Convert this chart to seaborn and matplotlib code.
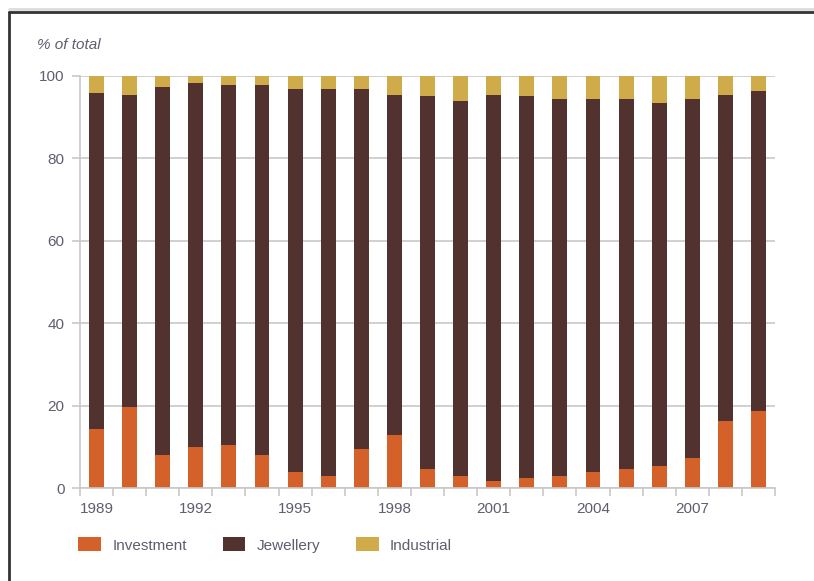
import matplotlib
matplotlib.use("Agg")
import matplotlib.pyplot as plt
import seaborn as sns
import numpy as np
import pandas as pd
from matplotlib.lines import Line2D
from matplotlib.patches import Patch
from matplotlib.ticker import FixedLocator

years = [str(y) for y in range(1989, 2010)]
investment = [14.3, 19.6, 8.0, 9.9, 10.4, 8.0, 4.0, 3.1, 9.5, 12.8, 4.6,
              3.1, 1.7, 2.5, 3.1, 4.0, 4.6, 5.5, 7.3, 16.2, 18.7]
industrial = [4.3, 4.75, 2.8, 1.7, 2.3, 2.3, 3.3, 3.3, 3.3, 4.75, 5.0,
              6.2, 4.75, 5.0, 5.7, 5.7, 5.7, 6.7, 5.7, 4.75, 3.8]
jewellery = [round(100 - i - d, 2) for i, d in zip(investment, industrial)]
labelled_years = ["1989", "1992", "1995", "1998", "2001", "2004", "2007"]

c_inv = "#D4602A"
c_jew = "#52322E"
c_ind = "#CFAB4A"
grid_c = "#C8C8C8"
text_c = "#5E5E70"

df = pd.DataFrame({"year": years, "Investment": investment,
                   "Jewellery": jewellery, "Industrial": industrial})

sns.set_theme(style="white")
plt.rcParams["font.family"] = ["Liberation Sans", "DejaVu Sans"]

fig = plt.figure(figsize=(8.14, 5.81), dpi=100)
ax = fig.add_axes([80 / 814, 1 - 488.3 / 581, 695 / 814, 412.6 / 581])

bottom = np.zeros(len(years))
for name, col in [("Investment", c_inv), ("Jewellery", c_jew), ("Industrial", c_ind)]:
    sns.barplot(data=df, x="year", y=name, order=years, color=col,
                bottom=bottom, width=0.45, ax=ax, saturation=1,
                linewidth=0, edgecolor="none")
    bottom = bottom + df[name].values

ax.set_xlim(-0.5, len(years) - 0.5)
ax.set_ylim(0, 100)
ax.set_yticks([0, 20, 40, 60, 80, 100])
ax.yaxis.grid(True, color=grid_c, linewidth=1.2)
ax.set_axisbelow(True)
ax.set_xlabel("")
ax.set_ylabel("")

pos = [years.index(y) for y in labelled_years]
ax.set_xticks(pos)
ax.set_xticklabels(labelled_years)
ax.xaxis.set_minor_locator(FixedLocator(np.arange(-0.5, len(years), 1.0)))
ax.tick_params(axis="x", which="major", length=0, pad=10, labelsize=11, labelcolor=text_c)
ax.tick_params(axis="x", which="minor", bottom=True, length=6, width=1.2, color=grid_c)
ax.tick_params(axis="y", left=True, length=6, width=1.2, color=grid_c,
               labelsize=11, labelcolor=text_c, pad=5)

for s in ["top", "right"]:
    ax.spines[s].set_visible(False)
for s in ["left", "bottom"]:
    ax.spines[s].set_color(grid_c)
    ax.spines[s].set_linewidth(1.2)

fig.text(37 / 814, 1 - 45 / 581, "% of total", fontsize=11, style="italic",
         color=text_c, va="center", ha="left")

handles = [Patch(facecolor=c, edgecolor="none") for c in (c_inv, c_jew, c_ind)]
fig.legend(handles, ["Investment", "Jewellery", "Industrial"], ncol=3,
           loc="center left", bbox_to_anchor=(64.5 / 814, 1 - 545 / 581),
           frameon=False, fontsize=11, labelcolor=text_c,
           handlelength=1.5, handleheight=1.0, handletextpad=0.72,
           columnspacing=2.35)

# frame lines of the surrounding box
fig.add_artist(Line2D([9 / 814, 9 / 814], [0, 1 - 12 / 581], color="#333333",
                      linewidth=2, transform=fig.transFigure))
fig.add_artist(Line2D([9 / 814, 1], [1 - 12 / 581, 1 - 12 / 581], color="#333333",
                      linewidth=2, transform=fig.transFigure))
fig.add_artist(Line2D([9 / 814, 1], [1 - 9 / 581, 1 - 9 / 581], color="#DDDDDD",
                      linewidth=2, transform=fig.transFigure))

fig.savefig("out.png", dpi=100)
